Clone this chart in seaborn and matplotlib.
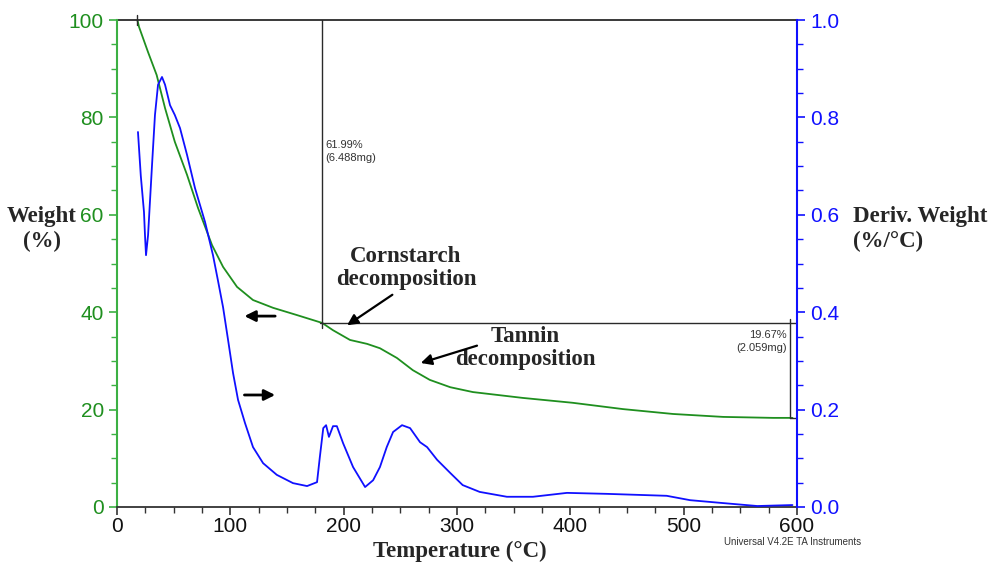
import numpy as np
import pandas as pd
import matplotlib
matplotlib.use("Agg")
import matplotlib.pyplot as plt
from matplotlib.ticker import MultipleLocator
import seaborn as sns

# --- data ---
temp_w = [18, 19.4, 27.4, 35, 42.4, 51, 61.8, 71.5, 83.8, 93.6, 105.9, 120, 137.7, 158.9, 181, 190.6, 205.6,
          220.6, 232, 247, 261, 276, 294, 314, 358, 402, 446.6, 490.7, 534.8, 579, 596]
weight = [100, 98.6, 93.4, 88.7, 81.9, 75, 68.2, 61.4, 53.8, 49.3, 45.2, 42.5, 40.9, 39.4, 37.8, 36.3, 34.3,
          33.5, 32.6, 30.6, 28.1, 26.1, 24.6, 23.6, 22.4, 21.4, 20.1, 19.1, 18.5, 18.3, 18.3]

temp_d = [18.5, 21, 23.8, 24.7, 25.6, 27.4, 30.9, 33.5, 36.2, 39.7, 42.4, 46.8, 51, 55.6, 61.8, 68.8, 77.7, 84.7,
          89, 93.6, 98, 102.4, 106.8, 113, 120, 128.9, 141, 155.3, 167.7, 176.5, 179, 182, 184.5, 187, 190.6, 194,
          199.5, 208.3, 218.9, 226, 232, 238, 243.6, 251.5, 258.6, 267.4, 273.6, 282.4, 294, 305, 320, 344, 367,
          397, 432, 485, 505.7, 535, 565, 596]
deriv = [0.770, 0.68, 0.606, 0.558, 0.517, 0.558, 0.702, 0.805, 0.867, 0.883, 0.867, 0.825, 0.805, 0.778, 0.723,
         0.655, 0.585, 0.517, 0.466, 0.41, 0.343, 0.275, 0.22, 0.172, 0.123, 0.09, 0.066, 0.049, 0.043, 0.051,
         0.103, 0.162, 0.168, 0.144, 0.166, 0.166, 0.131, 0.082, 0.041, 0.055, 0.082, 0.123, 0.154, 0.168, 0.162,
         0.133, 0.123, 0.097, 0.07, 0.045, 0.031, 0.021, 0.021, 0.029, 0.027, 0.023, 0.014, 0.008, 0.002, 0.004]

x_ticks = [0, 100, 200, 300, 400, 500, 600]
y_left_ticks = [0, 20, 40, 60, 80, 100]
y_right_ticks = [0.0, 0.2, 0.4, 0.6, 0.8, 1.0]

step1_T, step1_W = 181, 37.8
step2_T, step2_W = 594, 18.3
step_start_T = 18

df_w = pd.DataFrame({"T": temp_w, "W": weight})
df_d = pd.DataFrame({"T": temp_d, "D": deriv})

sns.set_style("white")
plt.rcParams["font.family"] = ["Liberation Sans", "DejaVu Sans"]

GREEN = "#1f8f1f"
GREEN_AX = "#3cb043"
BLUE = "#1010ff"
DARK = "#333333"

fig = plt.figure(figsize=(9.88, 5.63), dpi=100)
ax = fig.add_axes([117/988, 1-507/563, 680/988, 487/563])
ax2 = ax.twinx()

sns.lineplot(data=df_w, x="T", y="W", ax=ax, color=GREEN, lw=1.3)
sns.lineplot(data=df_d, x="T", y="D", ax=ax2, color=BLUE, lw=1.3)

ax.set_xlim(0, 600)
ax.set_ylim(0, 100)
ax2.set_ylim(0, 1.0)
ax.set_xticks(x_ticks)
ax.set_yticks(y_left_ticks)
ax2.set_yticks(y_right_ticks)
ax2.set_yticklabels([f"{v:.1f}" for v in y_right_ticks])
ax.xaxis.set_minor_locator(MultipleLocator(25))
ax.yaxis.set_minor_locator(MultipleLocator(5))
ax2.yaxis.set_minor_locator(MultipleLocator(0.05))

ax.set_xlabel("")
ax.set_ylabel("")
ax2.set_ylabel("")

for a in (ax, ax2):
    for s in a.spines.values():
        s.set_visible(False)
ax.spines["left"].set_visible(True)
ax.spines["left"].set_color(GREEN_AX)
ax.spines["left"].set_linewidth(1.5)
ax.spines["bottom"].set_visible(True)
ax.spines["bottom"].set_color(DARK)
ax.spines["bottom"].set_linewidth(1.3)
ax2.spines["right"].set_visible(True)
ax2.spines["right"].set_color(BLUE)
ax2.spines["right"].set_linewidth(1.5)

ax.tick_params(axis="y", which="both", direction="out", colors=GREEN_AX, labelcolor=GREEN, labelsize=15, left=True)
ax.tick_params(axis="y", which="major", length=6, width=1.2)
ax.tick_params(axis="y", which="minor", length=4, width=1.0)
ax.tick_params(axis="x", which="both", direction="out", colors=DARK, labelcolor="#111111", labelsize=15, bottom=True)
ax.tick_params(axis="x", which="major", length=6, width=1.2, pad=1)
ax.tick_params(axis="x", which="minor", length=4, width=1.0)
ax2.tick_params(axis="y", which="both", direction="out", colors=BLUE, labelcolor=BLUE, labelsize=15, right=True)
ax2.tick_params(axis="y", which="major", length=6, width=1.2)
ax2.tick_params(axis="y", which="minor", length=4, width=1.0)

# step analysis lines
lc = "#2a2a2a"
ax.plot([0, 600], [100, 100], color=lc, lw=1.3, clip_on=False)
ax.plot([step_start_T, step_start_T], [99, 101], color=lc, lw=1.0, clip_on=False)
ax.plot([step1_T, step1_T], [step1_W - 1, 100], color=lc, lw=1.0)
ax.plot([step1_T - 1.5, 600], [step1_W, step1_W], color=lc, lw=1.0)
ax.plot([step2_T, step2_T], [step2_W, step1_W + 0.9], color=lc, lw=1.0)
ax.plot([step2_T, 600], [step2_W, step2_W], color=lc, lw=1.0)

ax.text(step1_T + 2.5, 73, "61.99%\n(6.488mg)", fontsize=8, color="#333333", va="center", ha="left", linespacing=1.3)
ax.text(step2_T - 3, 34.0, "19.67%\n(2.059mg)", fontsize=8, color="#333333", va="center", ha="right", linespacing=1.3)

serif = ["Liberation Serif", "DejaVu Serif"]
ax.text(255, 49.1, "Cornstarch\ndecomposition", fontsize=16.5, fontweight="bold", family=serif, ha="center", va="center", linespacing=1.1)
ax.annotate("", xy=(201, 37.0), xytext=(245, 43.9),
            arrowprops=dict(arrowstyle="-|>", color="black", lw=1.6, mutation_scale=16))
ax.text(360, 32.6, "Tannin\ndecomposition", fontsize=16.5, fontweight="bold", family=serif, ha="center", va="center", linespacing=1.1)
ax.annotate("", xy=(265.7, 29.4), xytext=(320, 33.3),
            arrowprops=dict(arrowstyle="-|>", color="black", lw=1.6, mutation_scale=16))
ax.annotate("", xy=(110, 39.2), xytext=(142, 39.2),
            arrowprops=dict(arrowstyle="-|>", color="black", lw=2.0, mutation_scale=16))
ax.annotate("", xy=(142, 23.0), xytext=(110, 23.0),
            arrowprops=dict(arrowstyle="-|>", color="black", lw=2.0, mutation_scale=16))

fig.text(42/988, 1-229/563, "Weight\n(%)", fontsize=16.5, fontweight="bold", family=serif, ha="center", va="center", linespacing=1.2)
fig.text(853/988, 1-229/563, "Deriv. Weight\n(%/°C)", fontsize=16.5, fontweight="bold", family=serif, ha="left", va="center", linespacing=1.2)
fig.text(460/988, 1-551/563, "Temperature (°C)", fontsize=16.5, fontweight="bold", family=serif, ha="center", va="center")
fig.text(793/988, 1-542/563, "Universal V4.2E TA Instruments", fontsize=7, color="#333333", ha="center", va="center")

fig.savefig("out.png", dpi=100)
